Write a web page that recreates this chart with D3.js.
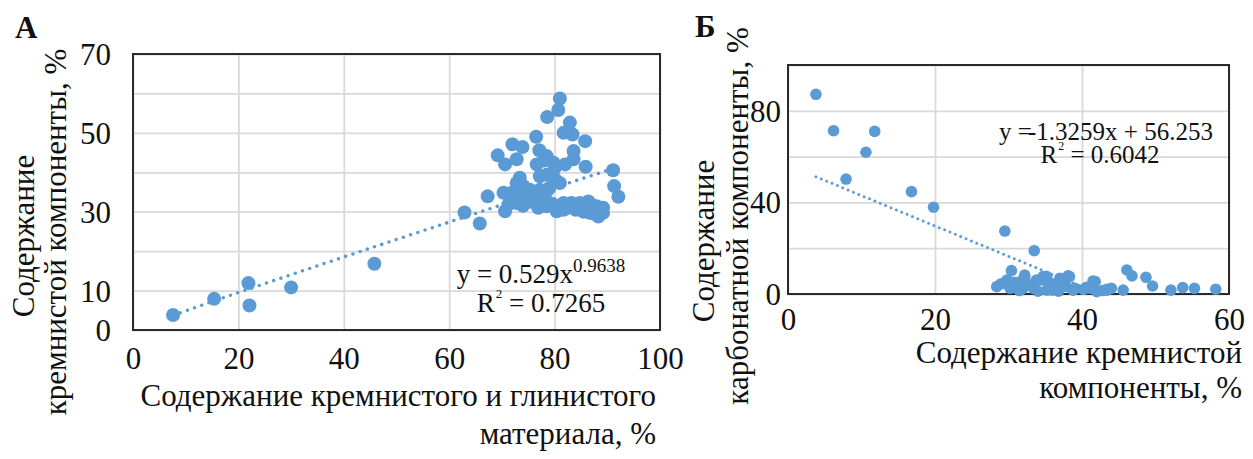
<!DOCTYPE html>
<html><head><meta charset="utf-8">
<script src="https://cdn.jsdelivr.net/npm/d3@7"></script>
<style>
html,body{margin:0;padding:0;background:#fff;}
svg text{font-family:"Liberation Serif","Times New Roman",serif;fill:#111;}
</style></head>
<body><svg id="c" width="1253" height="459" font-family="Liberation Serif, Times New Roman, serif"></svg>
<script>
// ---- Panel А data: x = siliceous+clay material, %, y = siliceous component, %
const aX = [7.6,15.4,21.9,22.1,30.0,45.8,62.9,65.8,67.3,69.2,70.6,70.3,70.6,71.2,71.9,72.0,72.8,72.8,72.8,73.1,73.4,73.9,74.1,74.7,75.3,76.0,76.5,76.6,76.9,77.1,77.2,77.2,77.9,78.5,78.5,78.5,78.5,78.6,79.8,80.1,80.1,80.4,80.7,81.0,81.0,81.7,81.7,81.7,82.0,82.9,83.2,83.4,83.6,83.6,84.8,85.8,85.9,86.4,86.7,88.0,88.3,89.2,89.2,91.1,91.3,92.1,75.5,79.0,82.5,84.0,87.0,85.5,74.0,80.0,78.0,88.8,87.6,83.8,79.6];
const aY = [3.8,7.9,11.9,6.2,10.8,16.8,29.8,27.0,33.9,44.3,42.0,34.8,30.1,31.8,34.8,47.1,43.3,37.3,32.2,34.4,38.6,46.4,36.5,33.1,35.6,33.9,49.0,42.0,31.0,45.6,39.0,35.6,33.9,44.1,39.4,35.2,31.4,54.0,42.4,38.2,31.4,30.1,55.8,58.7,37.3,50.0,32.2,30.5,42.0,52.6,32.2,49.6,45.4,43.3,32.2,47.9,41.4,32.6,29.7,31.4,28.8,31.0,29.7,40.5,36.5,33.8,32.5,36.0,31.0,30.5,31.8,30.0,31.5,41.0,43.0,30.6,29.5,31.6,32.0];
// ---- Panel Б data: x = siliceous component, %, y = carbonate component, %
const bX = [3.8,6.2,11.8,10.6,7.9,16.8,19.8,29.5,33.5,28.4,29.8,30.2,30.4,31.1,32.0,32.2,32.2,33.4,33.8,34.3,34.7,35.2,35.2,35.9,36.3,37.0,37.2,37.4,37.9,38.1,38.3,38.8,40.2,40.6,41.1,41.5,41.8,43.4,43.4,44.0,45.6,46.1,46.8,48.7,49.6,52.1,53.7,55.3,58.2,29.0,30.8,31.5,33.0,34.0,36.0,36.8,39.0,42.0,42.8,31.8,35.5];
const bY = [87.2,71.3,71.0,61.9,50.2,44.7,37.9,27.5,18.9,3.2,6.1,2.5,10.2,3.9,2.5,8.3,7.6,2.5,6.1,6.1,7.6,7.6,1.7,1.7,2.5,6.9,6.1,3.2,3.2,7.9,7.6,1.7,2.0,2.9,2.5,5.7,5.4,1.7,2.0,2.5,1.7,10.5,7.9,7.3,3.5,1.7,2.8,2.5,2.1,4.5,5.0,1.5,4.0,1.2,4.5,1.2,2.5,1.0,1.5,5.8,3.8];
// ---- ticks
const aXTicks = [0,20,40,60,80,100];
const aYGrid = [0,10,20,30,40,50,60,70];
const aYLabels = [0,10,30,50,70];
const bXTicks = [0,20,40,60];
const bYGrid = [0,20,40,60,80,100];
const bYLabels = [0,40,80];
// ---- trend lines (coefficients as printed on the chart)
const aFit = {a:0.529, b:0.9638, r2:"0.7265", x0:7.6, x1:91.1};
const bFit = {k:-1.3259, c:56.253, r2:"0.6042", x0:3.8, x1:42.4};

const svg = d3.select("#c");
const BLUE = "#5b9bd5";
const SERIF = '"Liberation Serif","Times New Roman",serif';

function panel(o){
  const g = svg.append("g");
  const x = d3.scaleLinear().domain(o.xDom).range([o.L,o.R]);
  const y = d3.scaleLinear().domain(o.yDom).range([o.B,o.T]);
  g.append("g").attr("transform",`translate(0,${o.B})`)
    .call(d3.axisBottom(x).tickValues(o.xTicks).tickSize(-(o.B-o.T)).tickFormat(""))
    .call(s=>{s.select(".domain").remove();s.selectAll("line").attr("stroke","#d9d9d9").attr("stroke-width",1.8);});
  g.append("g").attr("transform",`translate(${o.L},0)`)
    .call(d3.axisLeft(y).tickValues(o.yGrid).tickSize(-(o.R-o.L)).tickFormat(""))
    .call(s=>{s.select(".domain").remove();s.selectAll("line").attr("stroke","#d9d9d9").attr("stroke-width",1.8);});
  g.append("g").attr("transform",`translate(0,${o.B})`)
    .call(d3.axisBottom(x).tickValues(o.xTicks).tickSize(0).tickFormat(d3.format("d")))
    .call(s=>{s.attr("font-family",null);s.select(".domain").remove();s.selectAll("text").attr("y",o.xLabBase-o.B).attr("dy",null)
      .attr("font-size",o.tickFs).style("font-family",SERIF).attr("fill","#111");});
  g.append("g").attr("transform",`translate(${o.L},0)`)
    .call(d3.axisLeft(y).tickValues(o.yLabels).tickSize(0).tickFormat(d3.format("d")))
    .call(s=>{s.attr("font-family",null);s.select(".domain").remove();s.selectAll("text").attr("x",o.yLabRight-o.L).attr("dy","0.34em")
      .attr("font-size",o.tickFs).style("font-family",SERIF).attr("fill","#111");});
  g.append("rect").attr("x",o.L).attr("y",o.T).attr("width",o.R-o.L).attr("height",o.B-o.T)
    .attr("fill","none").attr("stroke","#2a2a2a").attr("stroke-width",2);
  g.append("g").selectAll("circle").data(o.xs.map((v,i)=>[v,o.ys[i]])).join("circle")
    .attr("cx",d=>x(d[0])).attr("cy",d=>y(d[1])).attr("r",o.r).attr("fill",BLUE);
  const tx = d3.range(0,61).map(i=>o.fit.x0+(o.fit.x1-o.fit.x0)*i/60);
  g.append("path").datum(tx.map(v=>[v,o.fit.f(v)]))
    .attr("d",d3.line().x(d=>x(d[0])).y(d=>y(d[1])))
    .attr("fill","none").attr("stroke",BLUE).attr("stroke-width",o.dotW)
    .attr("stroke-linecap","round").attr("stroke-dasharray",`0 ${o.dotGap}`);
  return {x,y};
}

panel({L:133,R:660,T:54,B:330,xDom:[0,100],yDom:[0,70],xTicks:aXTicks,yGrid:aYGrid,yLabels:aYLabels,
  xLabBase:369,yLabRight:111,tickFs:31,xs:aX,ys:aY,r:7,dotW:3.6,dotGap:7.6,
  fit:{x0:aFit.x0,x1:aFit.x1,f:v=>aFit.a*Math.pow(v,aFit.b)}});
panel({L:788,R:1229,T:65,B:294,xDom:[0,60],yDom:[0,100],xTicks:bXTicks,yGrid:bYGrid,yLabels:bYLabels,
  xLabBase:330,yLabRight:781,tickFs:31,xs:bX,ys:bY,r:5.8,dotW:3,dotGap:5.8,
  fit:{x0:bFit.x0,x1:bFit.x1,f:v=>bFit.k*v+bFit.c}});

function txt(x,y,s,fs,opts={}){
  const t = svg.append("text").attr("font-size",fs)
    .attr("transform",`translate(${x},${y})${opts.rot?` rotate(${opts.rot})`:""}`)
    .attr("text-anchor",opts.anchor||"start");
  if(opts.bold) t.attr("font-weight","bold");
  t.text(s);
  return t;
}
txt(15,38,"А",31,{bold:true});
txt(695,37,"Б",31,{bold:true});
txt(34,236,"Содержание",31,{rot:-90,anchor:"middle"});
txt(66,232,"кремнистой компоненты, %",31,{rot:-90,anchor:"middle"});
txt(656,406,"Содержание кремнистого и глинистого",31,{anchor:"end"});
txt(656,444,"материала, %",31,{anchor:"end"});
txt(714,241,"Содержание",31,{rot:-90,anchor:"middle"});
txt(748,216,"карбонатной компоненты, %",31,{rot:-90,anchor:"middle"});
txt(1242,363,"Содержание кремнистой",31,{anchor:"end"});
txt(1242,398,"компоненты, %",31,{anchor:"end"});

function eqA(){
  const t = svg.append("text").attr("font-size",27).attr("text-anchor","middle").attr("x",541).attr("y",283);
  t.append("tspan").text(`y = ${aFit.a}x`);
  t.append("tspan").attr("font-size",19).attr("dy",-11).text(aFit.b);
  const r = svg.append("text").attr("font-size",27).attr("text-anchor","middle").attr("x",541).attr("y",312);
  r.append("tspan").text("R");
  r.append("tspan").attr("font-size",13).attr("dx",1).attr("dy",-14).text("2");
  r.append("tspan").attr("dy",14).text(` = ${aFit.r2}`);
}
function eqB(){
  const t = svg.append("text").attr("font-size",25).attr("text-anchor","middle").attr("x",1106).attr("y",140);
  t.append("tspan").text("y =");
  t.append("tspan").attr("dx",-4).text(`-${Math.abs(bFit.k)}x + ${bFit.c}`);
  const r = svg.append("text").attr("font-size",25).attr("text-anchor","middle").attr("x",1100).attr("y",163);
  r.append("tspan").text("R");
  r.append("tspan").attr("font-size",12).attr("dx",1).attr("dy",-13).text("2");
  r.append("tspan").attr("dy",13).text(` = ${bFit.r2}`);
}
eqA(); eqB();
</script></body></html>
